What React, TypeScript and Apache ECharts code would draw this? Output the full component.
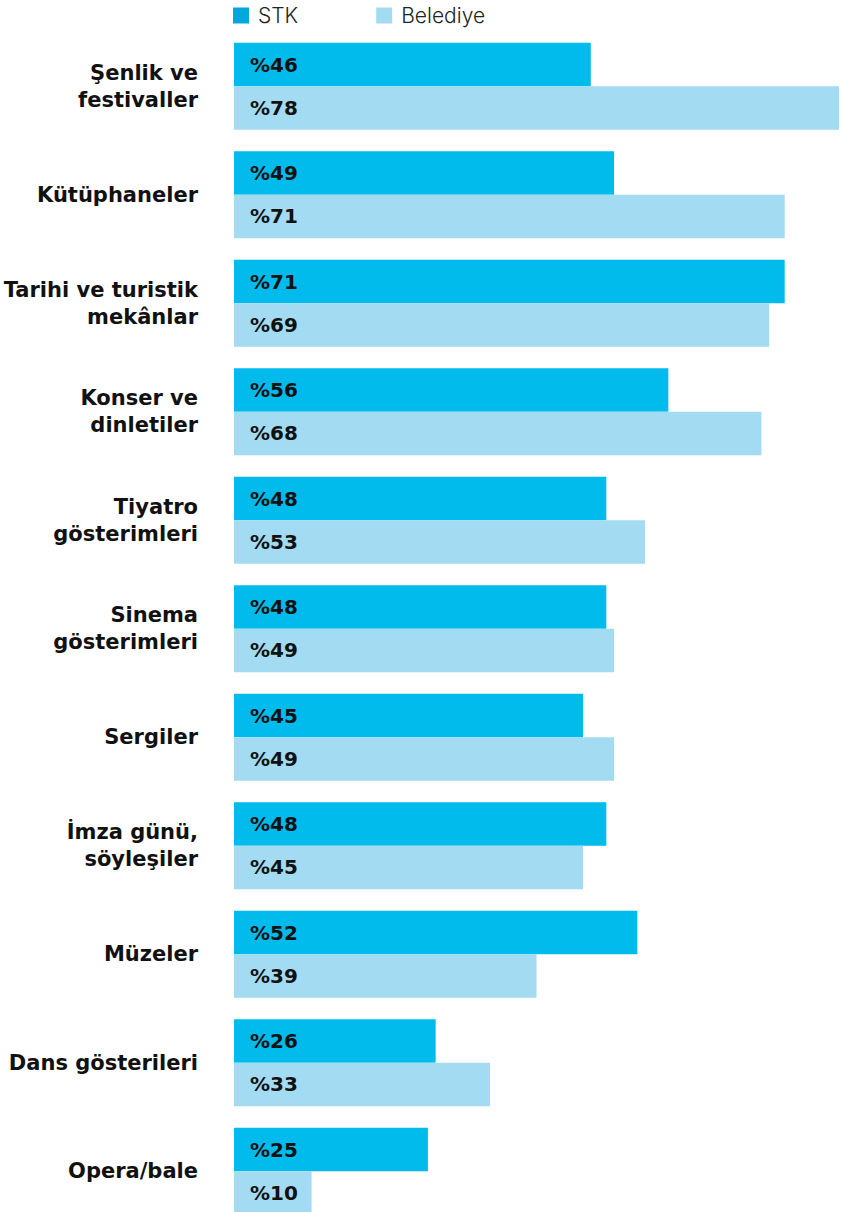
import React, { useEffect, useRef } from "react";
import * as echarts from "echarts";

const categories = [
  "Şenlik ve\nfestivaller",
  "Kütüphaneler",
  "Tarihi ve turistik\nmekânlar",
  "Konser ve\ndinletiler",
  "Tiyatro\ngösterimleri",
  "Sinema\ngösterimleri",
  "Sergiler",
  "İmza günü,\nsöyleşiler",
  "Müzeler",
  "Dans gösterileri",
  "Opera/bale",
];
const stkValues = [46, 49, 71, 56, 48, 48, 45, 48, 52, 26, 25];
const belediyeValues = [78, 71, 69, 68, 53, 49, 49, 45, 39, 33, 10];
const seriesNames = ["STK", "Belediye"];

const FONT = "'DejaVu Sans', sans-serif";
const LEGEND_FONT = "Inter, 'Noto Sans', sans-serif";

export default function App() {
  const ref = useRef<HTMLDivElement>(null);
  useEffect(() => {
    document.body.style.margin = "0";
    if (!ref.current) return;
    const chart = echarts.init(ref.current, null, { renderer: "svg" });
    const labelCfg = {
      show: true,
      position: "insideLeft",
      distance: 16,
      formatter: (p: any) => "%" + p.value,
      color: "#111",
      fontFamily: FONT,
      fontWeight: 700,
      fontSize: 20,
    };
    chart.setOption({
      animation: false,
      textStyle: { fontFamily: FONT },
      legend: {
        data: [
          { name: seriesNames[0], itemStyle: { color: "#00A9DA" } },
          { name: seriesNames[1] },
        ],
        left: 228,
        top: 0,
        itemWidth: 16,
        itemHeight: 16,
        itemGap: 78,
        icon: "rect",
        textStyle: { fontSize: 21, color: "#222", fontWeight: 300, fontFamily: LEGEND_FONT, padding: [0, 0, 0, 4] },
      },
      grid: { left: 234, top: 32, width: 605, height: 1193.5, containLabel: false },
      xAxis: {
        type: "value",
        min: 0,
        max: 78,
        show: false,
      },
      yAxis: {
        type: "category",
        data: categories,
        inverse: true,
        axisLine: { show: false },
        axisTick: { show: false },
        axisLabel: {
          margin: 36,
          fontSize: 21,
          fontWeight: 700,
          color: "#111",
          fontFamily: FONT,
          lineHeight: 27,
          align: "right",
        },
      },
      series: [
        {
          name: seriesNames[0],
          type: "bar",
          data: stkValues,
          barGap: "0%",
          barCategoryGap: "20%",
          itemStyle: { color: "#00BBEB" },
          label: labelCfg,
        },
        {
          name: seriesNames[1],
          type: "bar",
          data: belediyeValues,
          barGap: "0%",
          barCategoryGap: "20%",
          itemStyle: { color: "#A3DBF3" },
          label: labelCfg,
        },
      ],
    });
    return () => chart.dispose();
  }, []);
  return (
    <div style={{ width: 843, height: 1212, overflow: "hidden" }}>
      <div ref={ref} style={{ width: 843, height: 1240 }} />
    </div>
  );
}
